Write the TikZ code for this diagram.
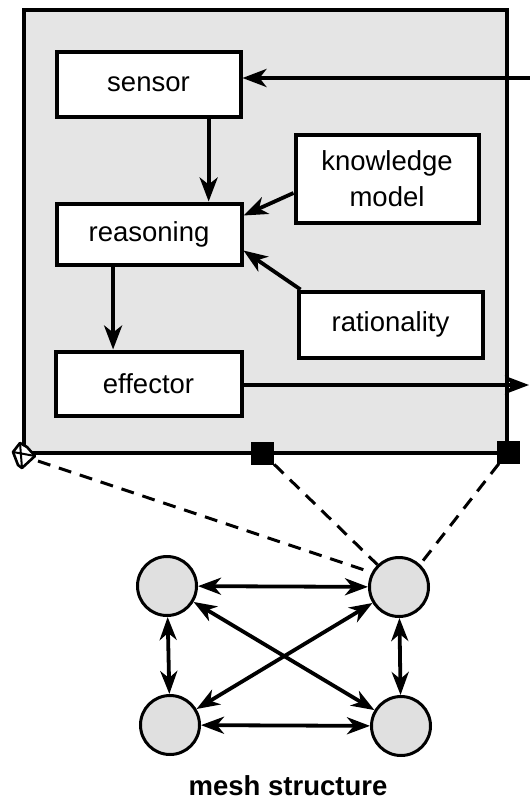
\documentclass[tikz,border=0pt]{standalone}
\usepackage{fontspec}
\setmainfont{Liberation Sans}
\usetikzlibrary{arrows.meta,calc}
\definecolor{panel}{HTML}{E5E5E5}
\definecolor{nodegray}{HTML}{E0E0E0}
\begin{document}
\begin{tikzpicture}[x=1pt,y=-1pt,
  txt/.style={font=\fontsize{27.5}{36}\selectfont},
  block/.style={draw, line width=4pt, fill=white, txt, align=center, inner sep=0pt},
  arr/.style={line width=3.8pt, -{Stealth[length=24pt,width=18pt,inset=7pt]}},
  darr/.style={line width=3.8pt, {Stealth[length=23pt,width=17pt,inset=7pt]}-{Stealth[length=23pt,width=17pt,inset=7pt]}},
  agent/.style={circle, draw, line width=3pt, fill=nodegray, minimum size=59pt, inner sep=0pt},
  port/.style={fill=black, minimum size=23pt, inner sep=0pt},
  link/.style={line width=3pt, dash pattern=on 13pt off 9pt}
]
\useasboundingbox (0,0) rectangle (530,801);

% agent panel
\draw[line width=4pt, fill=panel] (24,10) rectangle (507,453);

% components
\node[block, minimum width=184pt, minimum height=65pt] (sensor) at (148.5,84) {sensor};
\node[block, minimum width=183pt, minimum height=88pt] (knowledge) at (387,178.5) {knowledge\\model};
\node[block, minimum width=185pt, minimum height=61pt] (reasoning) at (149,234) {reasoning};
\node[block, minimum width=184pt, minimum height=66pt] (rationality) at (390.5,324.5) {rationality};
\node[block, minimum width=186pt, minimum height=64pt] (effector) at (148.5,383.5) {effector};

\coordinate (input) at (530,78);
\coordinate (output) at (529,385);

% internal flow
\draw[arr] (input) -- (sensor.east |- input);
\coordinate (s1) at ($(sensor.south west)!0.82!(sensor.south east)$);
\draw[arr] (s1) -- (s1 |- reasoning.north);
\draw[arr] ([yshift=-14.5pt]knowledge.west) -- ([yshift=18.5pt]reasoning.east);
\draw[arr] ([xshift=4pt]rationality.north west) -- ([yshift=-16.5pt]reasoning.east);
\coordinate (r1) at ($(reasoning.south west)!0.31!(reasoning.south east)$);
\draw[arr] (r1) -- (r1 |- effector.north);
\draw[arr] (effector.east |- output) -- (output);

% mesh of agents
\node[agent] (tl) at (167,586) {};
\node[agent] (tr) at (399,587) {};
\node[agent] (bl) at (170,725) {};
\node[agent] (br) at (401,726) {};

\draw[darr] (tl) -- (tr);
\draw[darr] (bl) -- (br);
\draw[darr] (tl) -- (bl);
\draw[darr] (tr) -- (br);
\draw[darr] (tl) -- (br);
\draw[darr] (tr) -- (bl);

% connection ports on the panel edge
\coordinate (corner) at (24,455);
\node[port] (pmid) at (262.5,453) {};
\node[port] (pright) at (508,452) {};

\draw[link] ([shift={(14pt,-6pt)}]corner) -- (tr.152);
\draw[link] (pmid) -- (tr.134);
\draw[link] (pright) -- (tr.47);

% corner marker
\draw[line width=2.6pt, line join=round, fill=white]
  ($(corner)+(-4,-12)$) -- ($(corner)+(-11,-3)$) -- ($(corner)+(-6,10)$)
  -- ($(corner)+(-2,13)$) -- ($(corner)+(11,1)$) -- ($(corner)+(3,-8)$) -- cycle;
\draw[line width=2pt] ($(corner)+(-11,-3)$) -- ($(corner)+(11,1)$);
\draw[line width=2pt] ($(corner)+(-4,-12)$) -- ($(corner)+(-2,13)$);

\node[font=\bfseries\fontsize{27.5}{32}\selectfont, anchor=base, inner sep=0pt] (title) at (288,795) {mesh structure};
\end{tikzpicture}
\end{document}
